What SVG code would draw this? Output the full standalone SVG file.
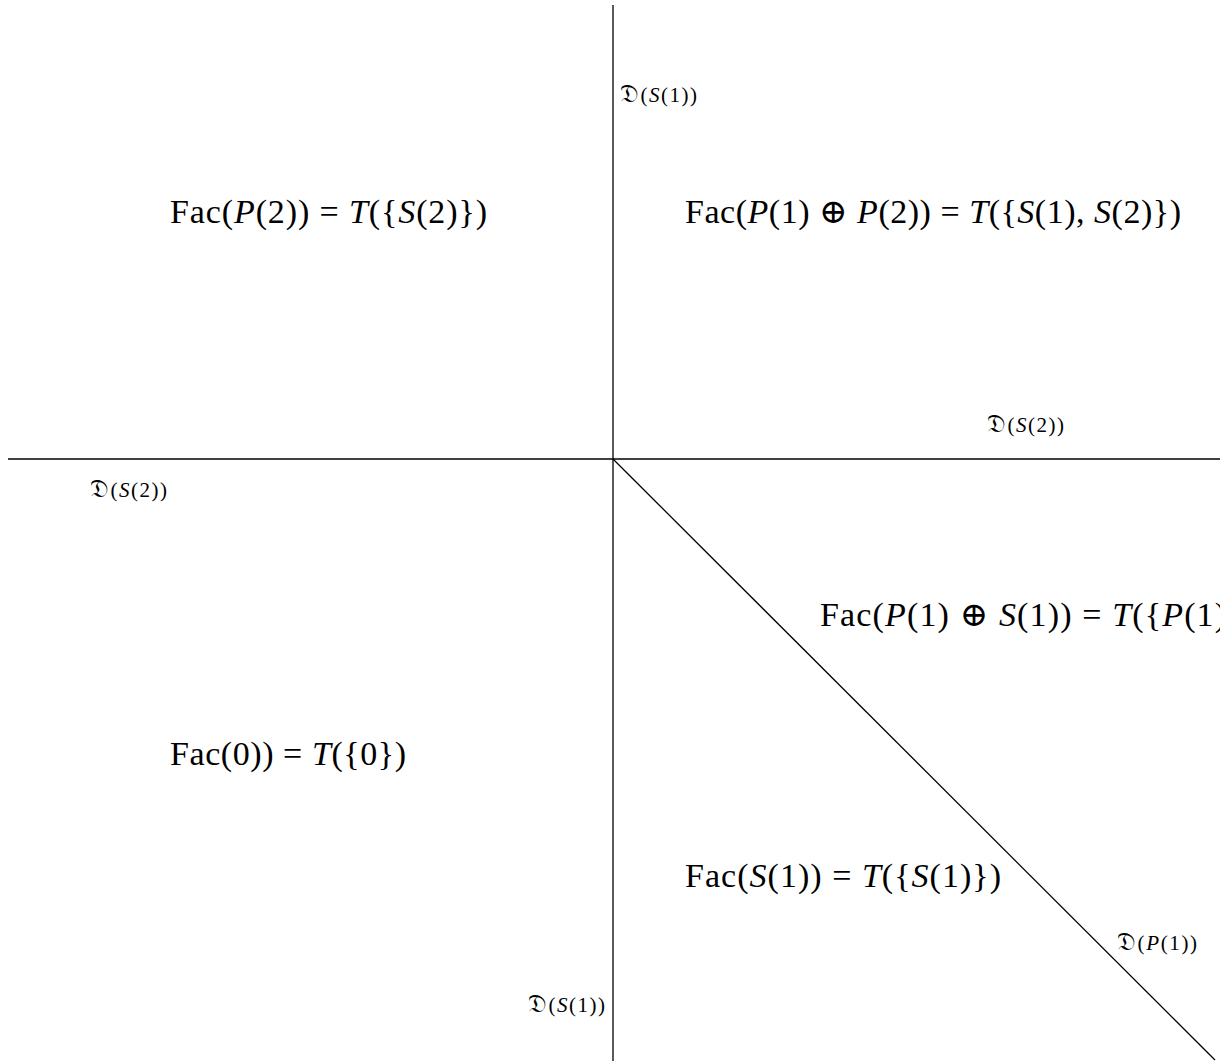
<svg xmlns="http://www.w3.org/2000/svg" width="1225" height="1061" viewBox="0 0 1225 1061">
<style>
.ln{stroke:#000;stroke-width:1.3;fill:none}
.big{font-family:"Liberation Serif","DejaVu Serif",serif;font-size:34px;fill:#000}
.sm{font-family:"Liberation Serif","DejaVu Serif","DejaVu Sans",serif;font-size:21px;fill:#000}
.i{font-style:italic}
.fd{font-size:25px}
</style>
<defs>
<clipPath id="clipR"><rect x="0" y="0" width="1220" height="1061"/></clipPath>
</defs>
<rect width="1225" height="1061" fill="#fff"/>
<g id="connectors">
<line class="ln" x1="613" y1="5" x2="613" y2="1061"/>
<line class="ln" x1="8" y1="459" x2="1220" y2="459"/>
<line class="ln" x1="613" y1="459" x2="1215" y2="1060"/>
</g>
<g id="region-p2"><text class="big" x="170" y="223" textLength="317">Fac(<tspan class="i">P</tspan>(2)) = <tspan class="i">T</tspan>({<tspan class="i">S</tspan>(2)})</text></g>
<g id="region-p1p2"><text class="big" x="685" y="223" textLength="496">Fac(<tspan class="i">P</tspan>(1) ⊕ <tspan class="i">P</tspan>(2)) = <tspan class="i">T</tspan>({<tspan class="i">S</tspan>(1), <tspan class="i">S</tspan>(2)})</text></g>
<g id="region-p1s1" clip-path="url(#clipR)"><text class="big" x="820" y="626" textLength="436">Fac(<tspan class="i">P</tspan>(1) ⊕ <tspan class="i">S</tspan>(1)) = <tspan class="i">T</tspan>({<tspan class="i">P</tspan>(1)})</text></g>
<g id="region-0"><text class="big" x="170" y="765" textLength="236">Fac(0)) = <tspan class="i">T</tspan>({0})</text></g>
<g id="region-s1"><text class="big" x="685" y="887" textLength="316">Fac(<tspan class="i">S</tspan>(1)) = <tspan class="i">T</tspan>({<tspan class="i">S</tspan>(1)})</text></g>
<g id="label-ds1-top"><text class="sm" x="620" y="102" textLength="77"><tspan class="fd">𝔇</tspan>(<tspan class="i">S</tspan>(1))</text></g>
<g id="label-ds2-right"><text class="sm" x="987" y="432" textLength="77"><tspan class="fd">𝔇</tspan>(<tspan class="i">S</tspan>(2))</text></g>
<g id="label-ds2-left"><text class="sm" x="90" y="497" textLength="77"><tspan class="fd">𝔇</tspan>(<tspan class="i">S</tspan>(2))</text></g>
<g id="label-dp1"><text class="sm" x="1117" y="950" textLength="80"><tspan class="fd">𝔇</tspan>(<tspan class="i">P</tspan>(1))</text></g>
<g id="label-ds1-bottom"><text class="sm" x="528" y="1012" textLength="77"><tspan class="fd">𝔇</tspan>(<tspan class="i">S</tspan>(1))</text></g>
</svg>
